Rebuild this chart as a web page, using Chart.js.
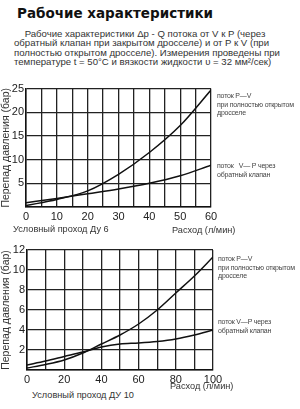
<!DOCTYPE html>
<html>
<head>
<meta charset="utf-8">
<script src="https://cdn.jsdelivr.net/npm/chart.js@4"></script>
<style>
  body { margin: 0; background: #fff; width: 300px; height: 409px; position: relative; overflow: hidden; font-family: 'Liberation Sans', sans-serif; color: #222; }
  .t { position: absolute; white-space: nowrap; }
  h1 { position: absolute; left: 17px; top: 5px; margin: 0; font: bold 13.5px 'DejaVu Sans', sans-serif; color: #111; }
  .para { position: absolute; left: 14px; top: 29px; font-size: 9.6px; line-height: 9.3px; color: #333; }
  .note { font-size: 7px; line-height: 8.5px; color: #444; letter-spacing: -0.2px; }
  .axis { font-size: 9.2px; color: #333; }
  .box { position: absolute; left: 0; width: 300px; height: 150px; }
</style>
</head>
<body>
<h1>Рабочие характеристики</h1>
<div class="para t">&nbsp;&nbsp;&nbsp;&nbsp;Рабочие характеристики Δp - Q потока от V к P (через<br>обратный клапан при закрытом дросселе) и от P к V (при<br>полностью открытом дросселе). Измерения проведены при<br>температуре t = 50°C и вязкости жидкости υ = 32 мм²/сек)</div>

<div class="box" style="top:80px"><canvas id="chart6"></canvas></div>
<div class="box" style="top:240px"><canvas id="chart10"></canvas></div>

<div class="t note" style="left:217px;top:92px">поток P—V<br>при полностью открытом<br>дросселе</div>
<div class="t note" style="left:217px;top:162px">поток &nbsp;&nbsp;V— P через<br>обратный клапан</div>
<div class="t axis" style="left:13px;top:224px">Условный проход Ду 6</div>
<div class="t axis" style="left:172px;top:225px">Расход (л/мин)</div>

<div class="t note" style="left:218px;top:255px">поток P—V<br>при полностью открытом<br>дросселе</div>
<div class="t note" style="left:218px;top:318px">поток V—P через<br>обратный клапан</div>
<div class="t axis" style="left:170px;top:381px">Расход (л/мин)</div>
<div class="t axis" style="left:32px;top:390px">Условный проход ДУ 10</div>

<script>
// Ду 6
const flow6 = [0, 10, 20, 30, 40, 50, 60];
const dpOpen6 = [0.3, 1.6, 3.4, 6.9, 11.5, 17.2, 24.7];
const dpCheck6 = [0.9, 1.8, 2.8, 3.8, 5.0, 6.6, 8.8];

// Ду 10
const flow10 = [0, 10, 20, 30, 40, 50, 60, 70, 80, 90, 100];
const dpOpen10 = [0.2, 0.55, 1.0, 1.7, 2.6, 3.5, 4.6, 6.0, 7.7, 9.4, 11.3];
const dpCheck10 = [0.5, 0.9, 1.35, 1.8, 2.3, 2.6, 2.7, 2.85, 3.1, 3.5, 4.0];

const yTitle = 'Перепад давления (бар)';

function makeChart(id, flow, series, opt) {
    const ctx = document.getElementById(id).getContext('2d');
    return new Chart(ctx, {
        type: 'line',
        data: {
            datasets: series.map(s => ({
                label: s.label,
                data: flow.map((x, i) => ({ x: x, y: s.values[i] })),
                borderColor: '#111',
                borderWidth: 1.5,
                pointRadius: 0,
                tension: 0.4,
                cubicInterpolationMode: 'monotone',
                fill: false
            }))
        },
        options: {
            responsive: true,
            maintainAspectRatio: false,
            animation: false,
            layout: { padding: { top: opt.padTop, right: opt.padRight, left: 0, bottom: 0 } },
            plugins: {
                legend: { display: false },
                tooltip: { enabled: false }
            },
            scales: {
                x: {
                    type: 'linear',
                    min: 0,
                    max: opt.xMax,
                    afterFit: s => { s.height = opt.xAxisH; },
                    ticks: {
                        stepSize: opt.xStep,
                        autoSkip: false,
                        maxRotation: 0,
                        padding: 3,
                        color: '#222',
                        font: { family: 'Liberation Sans', size: 11 },
                        callback: v => (v % opt.xLabelStep === 0 ? v : '')
                    },
                    grid: { color: '#222', lineWidth: 1.3, drawTicks: false },
                    border: { color: '#111', width: 1.5 }
                },
                y: {
                    min: 0,
                    max: opt.yMax,
                    afterFit: s => { s.width = opt.yAxisW; },
                    title: {
                        display: true,
                        text: yTitle,
                        color: '#333',
                        padding: 0,
                        font: { family: 'Liberation Sans', size: 10.5 }
                    },
                    ticks: {
                        stepSize: opt.yStep,
                        padding: 2,
                        color: '#222',
                        font: { family: 'Liberation Sans', size: 11 },
                        callback: v => (v === 0 ? '' : v)
                    },
                    grid: { color: '#222', lineWidth: 1.3, drawTicks: false },
                    border: { color: '#111', width: 1.5 }
                }
            }
        }
    });
}

makeChart('chart6', flow6, [
    { label: 'поток P—V при полностью открытом дросселе', values: dpOpen6 },
    { label: 'поток V—P через обратный клапан', values: dpCheck6 }
], { padTop: 8, padRight: 89, xAxisH: 23, yAxisW: 26, xMax: 60, xStep: 5, xLabelStep: 10, yMax: 25, yStep: 5 });

makeChart('chart10', flow10, [
    { label: 'поток P—V при полностью открытом дросселе', values: dpOpen10 },
    { label: 'поток V—P через обратный клапан', values: dpCheck10 }
], { padTop: 10, padRight: 87, xAxisH: 20, yAxisW: 27, xMax: 100, xStep: 10, xLabelStep: 20, yMax: 12, yStep: 2 });
</script>
</body>
</html>
